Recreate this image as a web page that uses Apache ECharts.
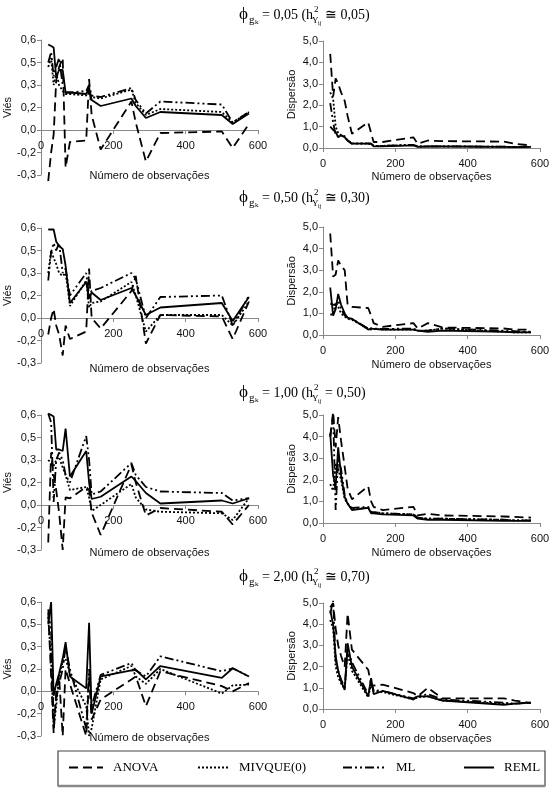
<!DOCTYPE html>
<html><head><meta charset="utf-8">
<script src="https://cdn.jsdelivr.net/npm/echarts@6/dist/echarts.min.js"></script>
<style>html,body{margin:0;padding:0;background:#fff}#c{width:558px;height:793px}</style>
</head><body><div id="c"></div>
<script>
// ---- data ----
const obs = [20,28,35,42,50,60,68,80,125,133,140,165,250,262,290,330,500,530,575];
const methods = ['ANOVA','MIVQUE(0)','ML','REML'];
const xTickLabels = ['0','200','400','600'];
const biasTickLabels = ['-0,3','-0,2','0,0','0,2','0,3','0,5','0,6'];
const dispTickLabels = ['0,0','1,0','2,0','3,0','4,0','5,0'];
const phiVals = ['0,05','0,50','1,00','2,00'];
const relSyms = ['≅','≅','=','≅'];
const hVals = ['0,05','0,30','0,50','0,70'];

// phi = 0,05
const bias005_anova  = [-0.34,-0.15,-0.03,0.33,0.42,0.48,-0.25,-0.08,-0.07,0.34,0.10,-0.13,0.19,0.05,-0.21,-0.02,-0.01,-0.12,0.04];
const bias005_mivque = [0.42,0.48,0.30,0.38,0.30,0.26,0.24,0.24,0.23,0.28,0.22,0.21,0.27,0.18,0.10,0.14,0.12,0.05,0.12];
const bias005_ml     = [0.45,0.52,0.36,0.42,0.48,0.30,0.25,0.25,0.26,0.30,0.23,0.22,0.28,0.20,0.11,0.19,0.17,0.05,0.12];
const bias005_reml   = [0.57,0.56,0.55,0.35,0.40,0.40,0.25,0.25,0.24,0.28,0.20,0.16,0.21,0.16,0.08,0.12,0.10,0.04,0.11];
const disp005_anova  = [4.4,2.4,3.25,3.0,2.6,2.2,1.5,0.67,1.2,0.7,0.28,0.28,0.5,0.2,0.35,0.32,0.3,0.2,0.12];
const disp005_mivque = [2.6,2.3,1.0,0.7,0.6,0.55,0.35,0.22,0.2,0.18,0.1,0.1,0.15,0.07,0.07,0.08,0.06,0.05,0.05];
const disp005_ml     = [2.1,1.2,0.6,0.55,0.6,0.5,0.35,0.2,0.22,0.2,0.1,0.1,0.15,0.07,0.08,0.08,0.06,0.05,0.06];
const disp005_reml   = [1.0,0.85,0.75,0.5,0.6,0.5,0.35,0.2,0.2,0.2,0.08,0.08,0.12,0.05,0.07,0.07,0.05,0.04,0.05];
// phi = 0,50
const bias050_anova  = [-0.11,0.0,0.06,-0.05,-0.11,-0.25,-0.05,-0.14,-0.09,0.33,0.0,-0.07,0.18,0.28,-0.17,0.02,0.01,-0.14,0.11];
const bias050_mivque = [0.30,0.45,0.40,0.36,0.30,0.28,0.30,0.08,0.25,0.07,0.10,0.11,0.24,0.15,-0.09,0.02,0.02,-0.05,0.11];
const bias050_ml     = [0.25,0.44,0.50,0.45,0.50,0.30,0.33,0.15,0.30,0.15,0.18,0.20,0.30,0.26,0.0,0.14,0.15,-0.05,0.15];
const bias050_reml   = [0.59,0.59,0.59,0.51,0.48,0.46,0.35,0.10,0.24,0.13,0.17,0.12,0.20,0.15,0.02,0.07,0.10,-0.02,0.14];
const disp050_anova  = [4.7,2.7,2.8,3.45,3.2,3.0,1.4,1.3,1.25,0.9,0.55,0.38,0.55,0.3,0.55,0.35,0.3,0.25,0.25];
const disp050_mivque = [0.95,0.95,1.5,1.3,1.0,0.85,0.75,0.7,0.3,0.25,0.28,0.25,0.25,0.2,0.2,0.3,0.15,0.12,0.12];
const disp050_ml     = [1.45,1.4,1.4,1.6,1.2,0.9,0.8,0.75,0.3,0.3,0.3,0.28,0.3,0.2,0.2,0.3,0.2,0.18,0.15];
const disp050_reml   = [2.2,0.9,1.2,1.9,1.4,1.0,0.8,0.75,0.25,0.3,0.28,0.25,0.25,0.2,0.15,0.2,0.15,0.12,0.12];
// phi = 1,00
const bias100_anova  = [-0.25,0.35,0.20,0.10,-0.05,-0.30,0.05,0.045,0.12,0.10,-0.05,-0.20,0.27,0.15,-0.07,-0.02,-0.045,-0.13,0.0];
const bias100_mivque = [0.30,0.28,0.26,0.30,0.32,0.25,0.20,0.10,0.12,0.05,-0.04,0.0,0.14,0.05,-0.03,-0.045,-0.055,-0.10,0.045];
const bias100_ml     = [0.61,0.55,0.02,0.30,0.35,0.30,0.20,0.15,0.46,0.30,0.07,0.09,0.28,0.20,0.12,0.09,0.08,0.03,0.045];
const bias100_reml   = [0.61,0.60,0.59,0.37,0.37,0.36,0.51,0.19,0.36,0.15,0.04,0.055,0.19,0.16,0.08,0.01,0.03,0.01,0.045];
const disp100_anova  = [4.0,5.15,3.5,4.9,3.8,2.6,1.6,1.1,1.7,1.0,0.75,0.6,0.75,0.35,0.43,0.35,0.3,0.28,0.25];
const disp100_mivque = [1.8,1.5,2.75,2.5,2.0,1.1,0.9,0.65,0.7,0.5,0.5,0.45,0.4,0.25,0.2,0.2,0.15,0.12,0.12];
const disp100_ml     = [4.0,5.0,0.6,3.0,2.5,1.3,0.9,0.7,0.75,0.5,0.5,0.45,0.4,0.25,0.2,0.2,0.15,0.12,0.12];
const disp100_reml   = [4.15,2.2,1.7,3.5,2.2,1.2,0.9,0.6,0.7,0.45,0.45,0.4,0.35,0.2,0.15,0.15,0.1,0.1,0.1];
// phi = 2,00
const bias200_anova  = [0.53,0.10,-0.28,0.0,0.10,-0.30,0.15,0.05,-0.30,0.10,-0.19,-0.055,0.08,0.10,-0.10,0.135,0.035,0.0,0.056];
const bias200_mivque = [0.50,0.20,-0.25,-0.10,0.10,0.20,0.22,0.12,-0.10,-0.30,-0.25,0.08,0.17,0.10,0.05,0.15,-0.015,0.04,0.045];
const bias200_ml     = [0.55,0.40,-0.20,-0.05,0.05,0.15,0.30,0.15,-0.25,0.15,-0.10,0.11,0.19,0.14,0.10,0.235,0.135,0.155,0.10];
const bias200_reml   = [0.45,0.60,-0.03,0.05,0.12,0.22,0.33,0.10,0.02,0.46,-0.15,0.10,0.14,0.145,0.08,0.17,0.09,0.155,0.10];
const disp200_anova  = [4.8,5.0,3.8,3.0,2.5,2.0,4.5,2.8,1.85,1.15,1.1,1.15,0.75,0.6,1.0,0.5,0.5,0.4,0.28];
const disp200_mivque = [4.2,3.8,2.0,1.5,1.2,0.95,2.6,1.8,0.55,1.2,0.85,0.8,0.45,0.55,0.6,0.4,0.25,0.25,0.3];
const disp200_ml     = [4.5,5.1,2.3,1.8,1.4,1.0,2.8,2.2,0.7,1.2,0.9,0.85,0.5,0.6,0.7,0.45,0.3,0.25,0.3];
const disp200_reml   = [4.65,4.0,2.5,1.8,1.3,0.9,3.1,2.0,0.6,1.45,0.7,0.85,0.45,0.6,0.6,0.4,0.2,0.25,0.3];

const panels = [
  {kind:'bias', s:[bias005_anova,bias005_mivque,bias005_ml,bias005_reml]},
  {kind:'disp', s:[disp005_anova,disp005_mivque,disp005_ml,disp005_reml]},
  {kind:'bias', s:[bias050_anova,bias050_mivque,bias050_ml,bias050_reml]},
  {kind:'disp', s:[disp050_anova,disp050_mivque,disp050_ml,disp050_reml]},
  {kind:'bias', s:[bias100_anova,bias100_mivque,bias100_ml,bias100_reml]},
  {kind:'disp', s:[disp100_anova,disp100_mivque,disp100_ml,disp100_reml]},
  {kind:'bias', s:[bias200_anova,bias200_mivque,bias200_ml,bias200_reml]},
  {kind:'disp', s:[disp200_anova,disp200_mivque,disp200_ml,disp200_reml]}
];

// ---- layout / style ----
const SANS = '"Liberation Sans", Arial, sans-serif';
const SERIF = '"Liberation Serif", "Times New Roman", serif';
const leftTops = [40,228,415,602], leftH = [135,135,135,134];
const rightTops = [41,227,415,603], rightH = [107,108,108,106];
const leftNameGap = [40,45,42,41];
const rightNameGap = [23,24,24,24];
const dashes = [[9,5],[2,2],[9,3,2,3,2,3],'solid'];
const axisGray = '#888';
const LW = 1.8;

const grid=[], xAxis=[], yAxis=[], series=[];
panels.forEach((p,i)=>{
  const row = Math.floor(i/2);
  const isBias = p.kind==='bias';
  grid.push(isBias ? {left:41,width:217,top:leftTops[row],height:leftH[row]}
                   : {left:323,width:217,top:rightTops[row],height:rightH[row]});
  xAxis.push({
    type:'value', gridIndex:i, min:0, max:600, interval:200,
    // bias panels: axis sits on the zero line (1/3 of the height above the bottom)
    offset: isBias ? -leftH[row]*0.3/0.9 : 0,
    axisLine:{onZero:false, lineStyle:{color:axisGray,width:1}},
    axisTick:{show:true,length:4,lineStyle:{color:axisGray}},
    splitLine:{show:false},
    axisLabel:{margin:10, color:'#111', fontFamily:SANS, fontSize:11, hideOverlap:false,
      showMinLabel:true, showMaxLabel:true,
      formatter:v=>xTickLabels[Math.round(v/200)]},
    name:'Número de observações', nameLocation:'middle',
    nameGap: isBias ? leftNameGap[row] : rightNameGap[row],
    nameTextStyle:{color:'#111', fontFamily:SANS, fontSize:11, verticalAlign:'top'}
  });
  yAxis.push(isBias ? {
    type:'value', gridIndex:i, min:-0.3, max:0.6, interval:0.15,
    axisLine:{show:true,lineStyle:{color:axisGray}},
    axisTick:{show:true,length:4,lineStyle:{color:axisGray}},
    splitLine:{show:false},
    axisLabel:{margin:5,color:'#111',fontFamily:SANS,fontSize:11,
      formatter:v=>biasTickLabels[Math.round((v+0.3)/0.15)]},
    name:'Viés', nameLocation:'middle', nameGap:28,
    nameTextStyle:{color:'#111',fontFamily:SANS,fontSize:11}
  } : {
    type:'value', gridIndex:i, min:0, max:5, interval:1,
    axisLine:{show:true,lineStyle:{color:axisGray}},
    axisTick:{show:true,length:4,lineStyle:{color:axisGray}},
    splitLine:{show:false},
    axisLabel:{margin:5,color:'#111',fontFamily:SANS,fontSize:11,
      formatter:v=>dispTickLabels[Math.round(v)]},
    name:'Dispersão', nameLocation:'middle', nameGap:26,
    nameTextStyle:{color:'#111',fontFamily:SANS,fontSize:11}
  });
  p.s.forEach((vals,m)=>{
    series.push({
      type:'line', name:methods[m], xAxisIndex:i, yAxisIndex:i,
      data: obs.map((x,k)=>[x,vals[k]]),
      showSymbol:false, symbol:'none', clip:false, silent:true, animation:false,
      lineStyle:{color:'#000', width:LW, type:dashes[m]},
      itemStyle:{color:'#000'}
    });
  });
});

// titles
const titleY = [15,198,393,577];
const graphic = [];
titleY.forEach((y,r)=>{
  const t = (text,x,yy,size)=>({type:'text',x:x,y:yy,silent:true,
    style:{text:text,font:size+'px '+SERIF,fill:'#000',verticalAlign:'middle',align:'left'}});
  graphic.push(t('ϕ',239,y,17));
  graphic.push(t('g',249,y+5,11));
  graphic.push(t('k',255,y+7,7));
  graphic.push(t('= '+phiVals[r]+' (h',262,y,14));
  graphic.push(t('2',314,y-5,9));
  graphic.push(t('Y',312,y+6,9));
  graphic.push(t('ij',318,y+8,6));
  graphic.push(t(relSyms[r]+' '+hVals[r]+')',325,y,14));
});
// legend frame
graphic.push({type:'rect',silent:true,shape:{x:58,y:751,width:487,height:35},
  style:{fill:'none',stroke:'#444',lineWidth:1.2}});
graphic.push({type:'line',silent:true,shape:{x1:58,y1:786,x2:545,y2:786},
  style:{stroke:'#888',lineWidth:2.5}});

const legPos = [{left:68,w:34},{left:197,w:31},{left:342,w:43},{left:463,w:30}];
const legend = methods.map((m,k)=>({
  data:[m], left:legPos[k].left, top:761, padding:0,
  itemWidth:legPos[k].w, itemHeight:14, selectedMode:false,
  itemStyle:{opacity:0, borderWidth:0},
  lineStyle:{opacity:1, width:2, color:'#000', type:dashes[k]},
  textStyle:{fontFamily:SERIF,fontSize:13,color:'#000',padding:[0,0,0,5]}
}));

const chart = echarts.init(document.getElementById('c'),null,{renderer:'canvas'});
chart.setOption({backgroundColor:'#fff',animation:false,grid,xAxis,yAxis,series,legend,graphic});
</script></body></html>
